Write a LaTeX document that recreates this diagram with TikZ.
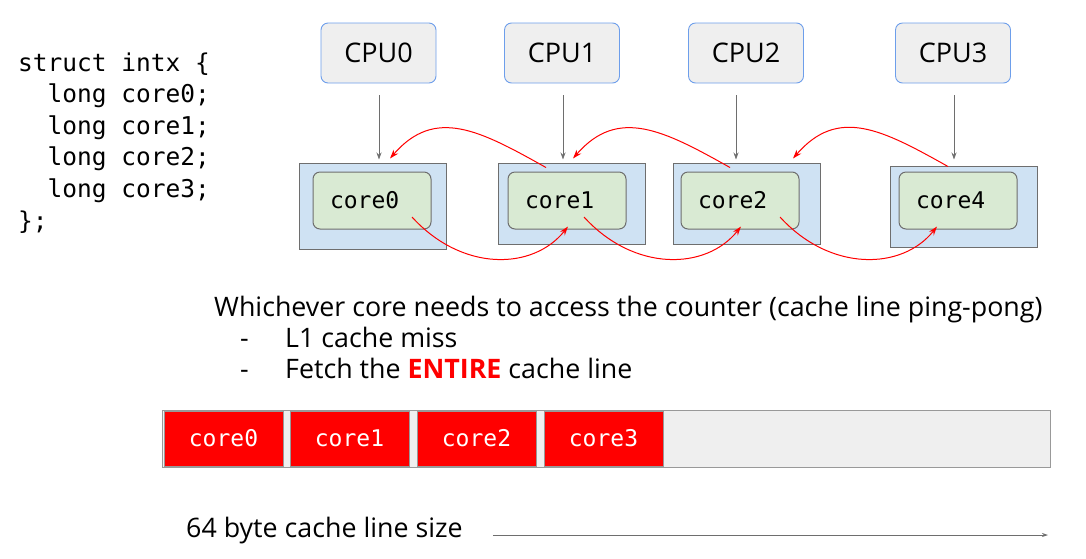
\documentclass[tikz,border=0pt]{standalone}
\usepackage{fontspec}
\setmainfont{Open Sans}
\newfontfamily\codefont{DejaVu Sans Mono}
\usepackage{xcolor}
\usetikzlibrary{arrows.meta, positioning, calc}
\definecolor{cpufill}{HTML}{EFEFEF}
\definecolor{cpuedge}{HTML}{6D9EEB}
\definecolor{outerblue}{HTML}{CFE2F3}
\definecolor{innergreen}{HTML}{D9EAD3}
\definecolor{edgegray}{HTML}{6E6E6E}
\definecolor{linegray}{HTML}{999999}
\definecolor{pingred}{HTML}{FF0000}

\begin{document}
\begin{tikzpicture}[
    x=1pt, y=-1pt,
    cpu/.style={rectangle, rounded corners=7pt, draw=cpuedge, line width=0.9pt, fill=cpufill, minimum width=115pt, minimum height=60pt, font=\fontsize{27}{30}\selectfont},
    outer/.style={rectangle, draw=edgegray, line width=1pt, fill=outerblue, minimum width=147pt, minimum height=81pt, inner sep=0pt},
    inner/.style={rectangle, rounded corners=7pt, draw=edgegray, line width=1pt, fill=innergreen, minimum width=118pt, minimum height=57pt, text width=84pt, align=left, inner xsep=17pt, font=\codefont\fontsize{23}{26}\selectfont},
    cell/.style={rectangle, draw=linegray, line width=0.6pt, fill=pingred, text=white, minimum width=119pt, minimum height=55pt, inner sep=0pt, font=\codefont\fontsize{23}{26}\selectfont},
    code/.style={anchor=base west, inner sep=0pt, font=\codefont\fontsize{24.5}{28}\selectfont},
    txt/.style={anchor=base west, inner sep=0pt, font=\fontsize{26.8}{30}\selectfont},
    cpuarrow/.style={-{Stealth[length=7pt, width=5pt]}, edgegray, line width=0.8pt},
    ping/.style={-{Stealth[length=9pt, width=6pt]}, pingred, line width=1pt},
    sizearrow/.style={-{Stealth[length=6pt, width=4pt]}, edgegray, line width=0.8pt}
]
\useasboundingbox (0,0) rectangle (1086,558);

% Struct
\node[code] (c0) at (18,71) {struct intx \{};
\node[code] (c1) at (18,102.6) {\ \ long core0;};
\node[code] (c2) at (18,134.2) {\ \ long core1;};
\node[code] (c3) at (18,165.8) {\ \ long core2;};
\node[code] (c4) at (18,197.4) {\ \ long core3;};
\node[code] (c5) at (18,229) {\};};

% CPUs
\node[cpu] (cpu0) at (378.5,53) {CPU0};
\node[cpu] (cpu1) at (562,53) {CPU1};
\node[cpu] (cpu2) at (746,53) {CPU2};
\node[cpu] (cpu3) at (953,53) {CPU3};

% Cores
\node[outer, minimum height=86pt] (box0) at (373,206) {};
\node[outer] (box1) at (571.5,203.5) {};
\node[outer] (box2) at (746.5,203.5) {};
\node[outer] (box3) at (963.5,206.5) {};
\node[inner] (core0) at (372,200.5) {core0};
\node[inner] (core1) at (567,200.5) {core1};
\node[inner] (core2) at (740,200.5) {core2};
\node[inner] (core4) at (958,200.5) {core4};

% CPU to core
\coordinate (t0) at ([xshift=6pt,yshift=3pt]box0.north);
\coordinate (t1) at ([xshift=-8.5pt,yshift=3pt]box1.north);
\coordinate (t2) at ([xshift=-10.5pt,yshift=3pt]box2.north);
\coordinate (t3) at ([xshift=-9.5pt,yshift=6pt]box3.north);
\draw[cpuarrow] ([yshift=-12pt]cpu0.south -| t0) -- (t0);
\draw[cpuarrow] ([yshift=-12pt]cpu1.south -| t1) -- (t1);
\draw[cpuarrow] ([yshift=-12pt]cpu2.south -| t2) -- (t2);
\draw[cpuarrow] ([yshift=-12pt]cpu3.south -| t3) -- (t3);

% Ping-pong
\draw[ping] ([xshift=-25.5pt,yshift=-5pt]box1.north) .. controls +(-66,-37) and +(45,-52) .. ([xshift=17pt,yshift=4pt]box0.north);
\draw[ping] ([xshift=-16.5pt,yshift=-5pt]box2.north) .. controls +(-66,-37) and +(45,-52) .. ([xshift=1.5pt,yshift=4pt]box1.north);
\draw[ping] ([xshift=-15.5pt,yshift=-1pt]box3.north) .. controls +(-66,-37) and +(45,-52) .. ([xshift=46.5pt,yshift=4pt]box2.north);
\draw[ping] ([xshift=40pt,yshift=-16.5pt]core0.center) .. controls +(50,55) and +(-35,44) .. ([xshift=1pt,yshift=3pt]core1.south);
\draw[ping] ([xshift=17pt,yshift=-16.5pt]core1.center) .. controls +(50,55) and +(-35,44) .. ([xshift=1pt,yshift=3pt]core2.south);
\draw[ping] ([xshift=40pt,yshift=-16.5pt]core2.center) .. controls +(50,55) and +(-35,44) .. ([xshift=-21pt,yshift=3pt]core4.south);

% Explanation
\node[txt] (why) at (214,316) {Whichever core needs to access the counter (cache line ping-pong)};
\node[txt] (d1) at (240,347) {-};
\node[txt] (miss) at (285,347) {L1 cache miss};
\node[txt] (d2) at (240,378) {-};
\node[txt] (fetch) at (285,378) {Fetch the \textbf{\textcolor{pingred}{ENTIRE}} cache line};

% Cache line
\node[rectangle, draw=linegray, line width=1pt, fill=cpufill, minimum width=888pt, minimum height=57pt] (line) at (606,438.5) {};
\node[cell] (l0) at (223.5,438.5) {core0};
\node[cell] (l1) at (349.5,438.5) {core1};
\node[cell] (l2) at (476.5,438.5) {core2};
\node[cell] (l3) at (603.5,438.5) {core3};

% Size
\node[txt] (sizelbl) at (186,537) {64 byte cache line size};
\coordinate (linestart) at ([xshift=30pt]sizelbl.east);
\coordinate (lineend) at (1048,535);
\draw[sizearrow] (linestart |- lineend) -- (lineend);
\end{tikzpicture}
\end{document}
